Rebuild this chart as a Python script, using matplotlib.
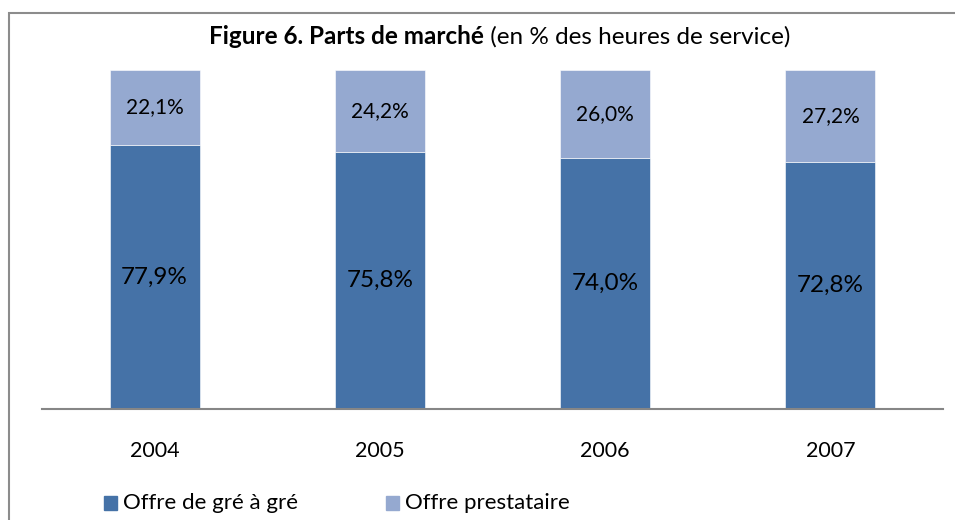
import matplotlib
matplotlib.use("Agg")
import matplotlib.pyplot as plt
from matplotlib.patches import Rectangle

plt.rcParams['font.family'] = ['Lato', 'DejaVu Sans']

years = ["2004", "2005", "2006", "2007"]
gre_a_gre = [77.9, 75.8, 74.0, 72.8]
prestataire = [22.1, 24.2, 26.0, 27.2]

dark = "#4572a7"
light = "#95a9d0"

W, H = 955, 520
fig = plt.figure(figsize=(W / 100, H / 100), dpi=100)

# cadre gris (coupé à droite et en bas)
fig.patches.append(Rectangle((9 / W, -0.1), 1.2, 1 - 13 / H + 0.1,
                             transform=fig.transFigure, fill=False,
                             edgecolor="#8c8c8c", linewidth=1.5))

ax = fig.add_axes([42 / W, (H - 409) / H, (943 - 42) / W, (409 - 70) / H])
x = range(len(years))
ax.bar(x, gre_a_gre, width=0.4, color=dark, edgecolor="white", linewidth=0.4)
ax.bar(x, prestataire, width=0.4, bottom=gre_a_gre, color=light,
       edgecolor="white", linewidth=0.4)

for i in x:
    ax.text(i, gre_a_gre[i] / 2, f"{gre_a_gre[i]:.1f}%".replace(".", ","),
            ha="center", va="center", fontsize=17.5)
    ax.text(i, gre_a_gre[i] + prestataire[i] / 2,
            f"{prestataire[i]:.1f}%".replace(".", ","),
            ha="center", va="center", fontsize=15)

ax.set_xlim(-0.5, 3.5)
ax.set_ylim(0, 100)
ax.set_yticks([])
ax.set_xticks(list(x))
ax.set_xticklabels(years, fontsize=15.5)
ax.tick_params(axis="x", length=0, pad=23)
for s in ["top", "left", "right"]:
    ax.spines[s].set_visible(False)
ax.spines["bottom"].set_color("#868686")
ax.spines["bottom"].set_linewidth(1.5)

# titre : partie grasse + partie normale, centrés ensemble
fig.canvas.draw()
r = fig.canvas.get_renderer()
t1 = fig.text(0, 1 - 37 / H, "Figure 6. Parts de marché", fontsize=17.5,
              fontweight="bold", va="center")
t2 = fig.text(0, 1 - 37 / H, " (en % des heures de service)", fontsize=17.5,
              va="center")
w1 = t1.get_window_extent(r).width
w2 = t2.get_window_extent(r).width
x0 = 500 - (w1 + w2) / 2
t1.set_x(x0 / W)
t2.set_x((x0 + w1) / W)

# légende
ly = 1 - 503 / H
fig.patches.append(Rectangle((104 / W, ly - 7 / H), 13 / W, 14 / H,
                             transform=fig.transFigure, color=dark))
fig.text(123 / W, ly, "Offre de gré à gré", fontsize=16, va="center")
fig.patches.append(Rectangle((386 / W, ly - 7 / H), 13 / W, 14 / H,
                             transform=fig.transFigure, color=light))
fig.text(405 / W, ly, "Offre prestataire", fontsize=16, va="center")

fig.savefig("out.png", dpi=100)
